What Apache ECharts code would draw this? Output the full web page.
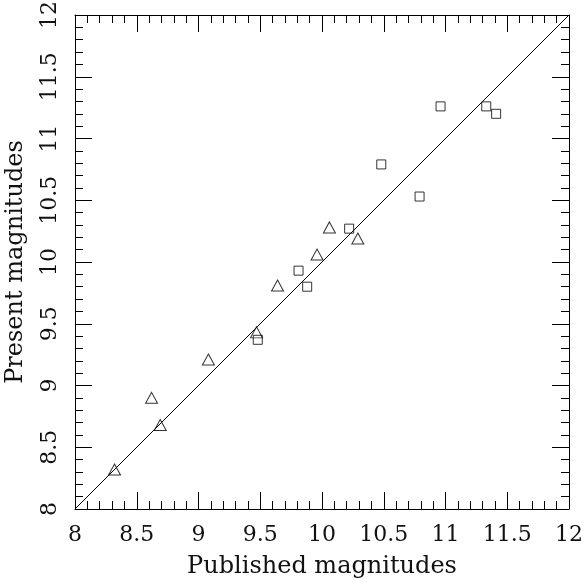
<!DOCTYPE html>
<html>
<head>
<meta charset="utf-8">
<script src="https://cdn.jsdelivr.net/npm/echarts@6/dist/echarts.min.js"></script>
<style>
  html, body { margin: 0; padding: 0; background: #fff; }
  #chart { width: 585px; height: 585px; }
</style>
</head>
<body>
<div id="chart"></div>
<script>
// Triangles: [published, present]
var triangles = [
  [8.32, 8.32], [8.62, 8.90], [8.69, 8.68], [9.08, 9.21], [9.47, 9.43],
  [9.64, 9.81], [9.96, 10.06], [10.06, 10.28], [10.29, 10.19]
];

// Squares: [published, present]
var squares = [
  [9.48, 9.37], [9.81, 9.93], [9.88, 9.80], [10.22, 10.27], [10.48, 10.79],
  [10.79, 10.53], [10.96, 11.26], [11.33, 11.26], [11.41, 11.20]
];

// one-to-one line
var diagonal = [[8, 8], [12, 12]];

var axisMin = 8;
var axisMax = 12;
var tickStep = 0.5;

var font = 'DejaVu Serif';

var myChart = echarts.init(document.getElementById('chart'));

// shared look for the frame axes
function frameAxis(extra) {
  var base = {
    type: 'value',
    min: axisMin,
    max: axisMax,
    interval: tickStep,
    axisLine: { show: true, onZero: false, lineStyle: { color: '#000', width: 1 } },
    axisTick: { show: true, inside: true, length: 17, lineStyle: { color: '#000', width: 1 } },
    minorTick: { show: true, splitNumber: 5, length: 8, lineStyle: { color: '#000', width: 1 } },
    splitLine: { show: false },
    axisLabel: { show: false }
  };
  return Object.assign(base, extra);
}

var option = {
  animation: false,
  grid: { left: 75, right: 16, top: 15, bottom: 76, outerBoundsMode: 'none', containLabel: false },
  xAxis: [
    frameAxis({
      position: 'bottom',
      name: 'Published magnitudes',
      nameLocation: 'middle',
      nameGap: 46,
      nameTextStyle: { fontFamily: font, fontSize: 24, color: '#111' },
      axisLabel: { show: true, margin: 15, fontFamily: font, fontSize: 22, color: '#111' }
    }),
    frameAxis({ position: 'top' })
  ],
  yAxis: [
    frameAxis({
      position: 'left',
      name: 'Present magnitudes',
      nameLocation: 'middle',
      nameGap: 47,
      nameTextStyle: { fontFamily: font, fontSize: 24, color: '#111' },
      axisLabel: { show: true, rotate: 90, margin: 14, fontFamily: font, fontSize: 22, color: '#111' }
    }),
    frameAxis({ position: 'right' })
  ],
  series: [
    {
      type: 'line',
      data: diagonal,
      symbol: 'none',
      lineStyle: { color: '#000', width: 1 },
      z: 2
    },
    {
      type: 'scatter',
      data: triangles,
      symbol: 'triangle',
      symbolSize: [12, 11],
      itemStyle: { color: 'rgba(0,0,0,0)', borderColor: '#000', borderWidth: 1 },
      z: 3
    },
    {
      type: 'scatter',
      data: squares,
      symbol: 'rect',
      symbolSize: 9,
      itemStyle: { color: 'rgba(0,0,0,0)', borderColor: '#000', borderWidth: 1 },
      z: 3
    }
  ]
};

myChart.setOption(option);
</script>
</body>
</html>
